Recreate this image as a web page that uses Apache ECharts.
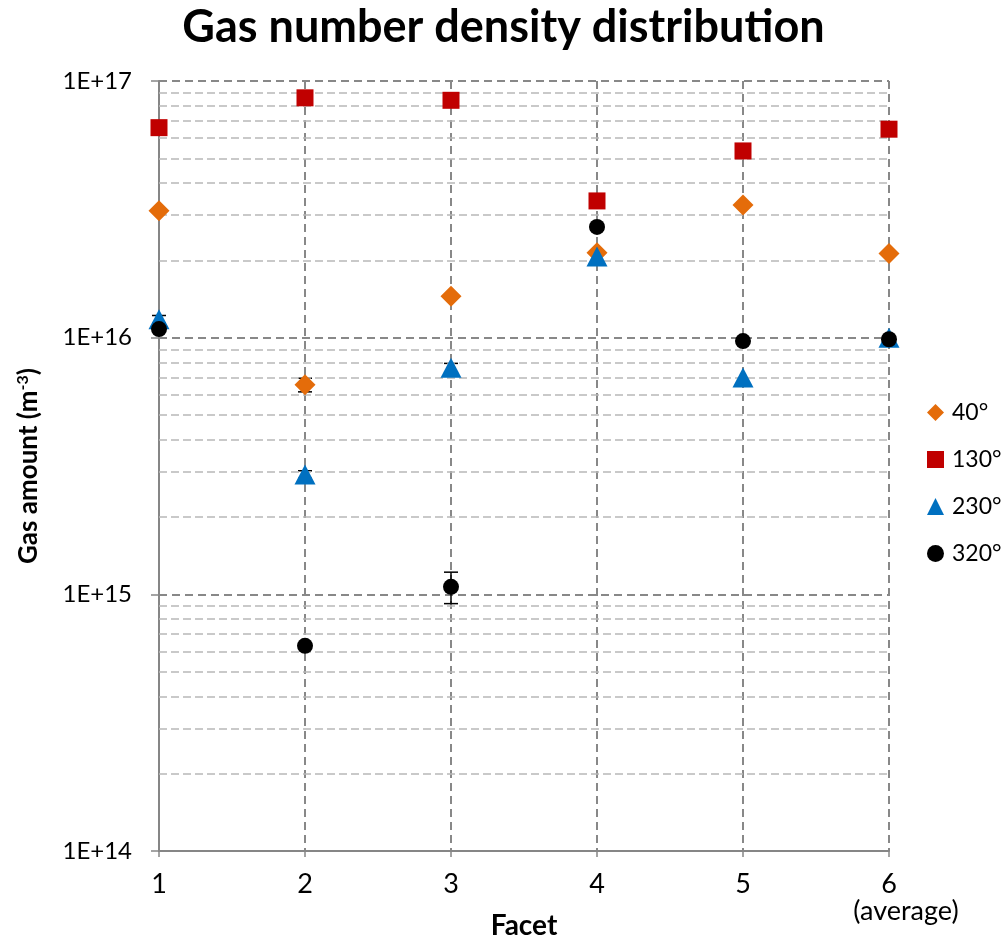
<!DOCTYPE html>
<html>
<head>
<meta charset="utf-8">
<script src="https://cdn.jsdelivr.net/npm/echarts@6/dist/echarts.min.js"></script>
<style>html,body{margin:0;padding:0;background:#fff;overflow:hidden}#c{width:1007px;height:942px}</style>
</head>
<body>
<div id="c"></div>
<script>
// ---- data ----
const facets = [1, 2, 3, 4, 5, 6];
const s40  = [3.12e16, 6.55e15, 1.45e16, 2.14e16, 3.29e16, 2.13e16];
const s130 = [6.58e16, 8.6e16, 8.41e16, 3.41e16, 5.34e16, 6.49e16];
const s230 = [1.18e16, 2.93e15, 7.64e15, 2.07e16, 7.0e15, 1.0e16];
const s320 = [1.08e16, 6.3e14, 1.07e15, 2.7e16, 9.7e15, 9.86e15];
const e40  = [0, 4e14, 0, 0, 0, 0];
const e130 = [0, 0, 0, 0, 0, 0];
const e230 = [4e14, 1e14, 3e14, 0, 0, 0];
const e320 = [0, 0, 1.5e14, 8e14, 0, 0];
const seriesNames = ['40°', '130°', '230°', '320°'];
const xTickLabels = {6: '{n|6}\n{s|(average)}'};
const yMin = 1e14, yMax = 1e17;

const FONT = 'Lato';
const minorVals = [];
for (let d = 14; d < 17; d++) for (let m = 2; m <= 9; m++) minorVals.push(m * Math.pow(10, d));

function pts(arr) { return arr.map((v, i) => [facets[i], v]); }
function errs(vals, e) {
  return vals.map((v, i) => [facets[i], v - e[i], v + e[i]]).filter((d, i) => e[i] > 0);
}
function errSeries(vals, e) {
  return {
    type: 'custom', silent: true, z: 2,
    encode: {x: 0, y: [1, 2]},
    data: errs(vals, e),
    renderItem: function (params, api) {
      const x = api.value(0);
      const lo = api.coord([x, api.value(1)]);
      const hi = api.coord([x, api.value(2)]);
      const w = 7;
      const st = {stroke: '#000', lineWidth: 1.5};
      return {type: 'group', children: [
        {type: 'line', shape: {x1: lo[0], y1: lo[1], x2: hi[0], y2: hi[1]}, style: st},
        {type: 'line', shape: {x1: hi[0] - w, y1: hi[1], x2: hi[0] + w, y2: hi[1]}, style: st},
        {type: 'line', shape: {x1: lo[0] - w, y1: lo[1], x2: lo[0] + w, y2: lo[1]}, style: st}
      ]};
    }
  };
}

const colors = ['#E46C0A', '#C00000', '#0070C0', '#000000'];
const symbols = ['diamond', 'rect', 'triangle', 'circle'];
const sizes = [[21, 21], [17, 17], [21, 20], [16, 16]];
const vals = [s40, s130, s230, s320];
const evals = [e40, e130, e230, e320];

const series = [];
series.push({
  type: 'scatter', data: [], silent: true,
  markLine: {
    silent: true, symbol: 'none', animation: false,
    label: {show: false},
    lineStyle: {color: '#b8b8b8', type: [8, 4], width: 1.5},
    data: minorVals.map(v => ({yAxis: v}))
  }
});
for (let k = 0; k < 4; k++) series.push(errSeries(vals[k], evals[k]));
for (let k = 0; k < 4; k++) {
  series.push({
    name: seriesNames[k], type: 'scatter', z: 5,
    symbol: symbols[k], symbolSize: sizes[k],
    itemStyle: {color: colors[k], opacity: 1},
    data: pts(vals[k])
  });
}

const chart = echarts.init(document.getElementById('c'), null, {renderer: 'canvas', width: 1007, height: 942});
chart.setOption({
  animation: false,
  backgroundColor: '#fff',
  title: {
    text: 'Gas number density distribution', left: 'center', top: 0,
    textStyle: {fontFamily: FONT, fontWeight: 'bold', fontSize: 45, color: '#000'}
  },
  grid: {left: 159, right: 118, top: 81, bottom: 91, containLabel: false, outerBoundsMode: 'none'},
  legend: {
    orient: 'vertical', left: 922, top: 396, itemGap: 24,
    itemWidth: 17, itemHeight: 17,
    data: seriesNames,
    textStyle: {fontFamily: FONT, fontSize: 23, color: '#000', padding: [0, 0, 0, 3]}
  },
  xAxis: {
    type: 'value', min: 1, max: 6, interval: 1,
    name: 'Facet', nameLocation: 'middle', nameGap: 61, nameMoveOverlap: false,
    nameTextStyle: {fontFamily: FONT, fontWeight: 'bold', fontSize: 28, color: '#000'},
    axisLine: {lineStyle: {color: '#868686', width: 2}},
    axisTick: {show: true, inside: false, length: 6, lineStyle: {color: '#868686', width: 1.5}},
    axisLabel: {
      margin: 20, fontFamily: FONT, fontSize: 27, color: '#000', lineHeight: 27,
      formatter: v => xTickLabels[v] || String(v),
      rich: {
        n: {fontFamily: FONT, fontSize: 27, color: '#000', lineHeight: 27},
        s: {fontFamily: FONT, fontSize: 27, color: '#000', lineHeight: 27, padding: [0, 0, 0, 34]}
      }
    },
    splitLine: {show: true, lineStyle: {color: '#888', type: [8, 5], width: 2}}
  },
  yAxis: {
    type: 'log', logBase: 10, min: yMin, max: yMax,
    name: 'Gas amount (m{sup|-3})', nameLocation: 'middle', nameGap: 116, nameRotate: 90,
    nameTextStyle: {
      fontFamily: FONT, fontWeight: 'bold', fontSize: 26, color: '#000',
      rich: {sup: {fontFamily: FONT, fontWeight: 'bold', fontSize: 16, color: '#000', verticalAlign: 'top', padding: [0, 0, 12, 0]}}
    },
    axisLine: {show: true, lineStyle: {color: '#868686', width: 2}},
    axisTick: {show: true, length: 8, lineStyle: {color: '#868686', width: 1.5}},
    axisLabel: {
      margin: 27, fontFamily: FONT, fontSize: 24, color: '#000',
      formatter: v => '1E+' + Math.round(Math.log10(v))
    },
    splitLine: {show: true, lineStyle: {color: '#888', type: [8, 5], width: 2}}
  },
  series: series
});
</script>
</body>
</html>
